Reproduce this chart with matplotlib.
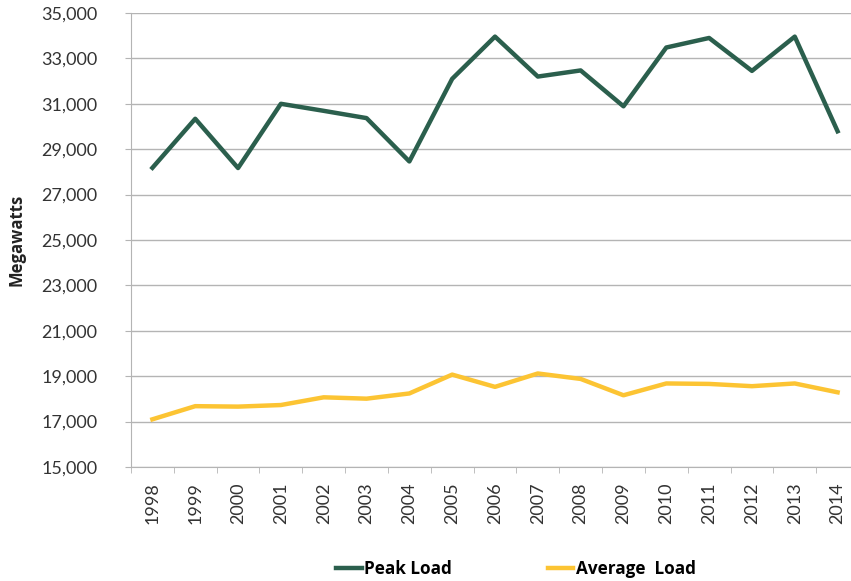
import matplotlib.pyplot as plt
import numpy as np

plt.rcParams['font.family'] = ['Lato', 'DejaVu Sans']

years = [str(y) for y in range(1998, 2015)]
peak_load = [28180, 30340, 28170, 31000, 30690, 30370, 28460, 32100, 33960,
             32200, 32470, 30890, 33480, 33900, 32450, 33960, 29790]
avg_load = [17100, 17680, 17660, 17730, 18070, 18010, 18240, 19070, 18530,
            19120, 18880, 18160, 18680, 18660, 18560, 18680, 18290]

fig = plt.figure(figsize=(8.51, 5.81), dpi=100)
ax = fig.add_axes([131/851, 1 - 467/581, 728/851, 454/581])

x = np.arange(len(years))
ax.plot(x, peak_load, color='#2b5f4d', lw=3.2, label='Peak Load')
ax.plot(x, avg_load, color='#fcc433', lw=3.2, label='Average  Load')

ax.set_xlim(-0.5, len(years) - 0.5)
ax.set_ylim(15000, 35000)
ax.set_yticks(range(15000, 35001, 2000))
ax.set_yticklabels([f'{v:,}' for v in range(15000, 35001, 2000)])
ax.yaxis.grid(True, color='#b4b4b4', lw=1)
ax.set_axisbelow(True)

ax.set_xticks(x)
ax.set_xticklabels(years, rotation=90)
ax.set_xticks(np.arange(-0.5, len(years)), minor=True)
ax.tick_params(axis='x', which='major', length=0, pad=11, labelsize=13, labelcolor='#333333')
ax.tick_params(axis='x', which='minor', length=4, color='#b4b4b4')
ax.tick_params(axis='y', length=4, color='#b4b4b4', labelsize=13, labelcolor='#333333', pad=20)

for s in ['top', 'right']:
    ax.spines[s].set_visible(False)
for s in ['left', 'bottom']:
    ax.spines[s].set_color('#b4b4b4')

ax.set_ylabel('Megawatts', fontsize=12, fontweight='bold', color='#222222',
              family=['Open Sans', 'DejaVu Sans'])
ax.yaxis.set_label_coords(-(131 - 26) / 728, 0.5)

fig.legend(loc='center', bbox_to_anchor=(516/851, 1 - 569/581), ncol=2, frameon=False,
           handlelength=1.5, handletextpad=0.15, columnspacing=5.6,
           prop={'size': 12.3, 'weight': 'bold', 'family': ['Open Sans', 'DejaVu Sans']})

fig.savefig('out.png', dpi=100)
